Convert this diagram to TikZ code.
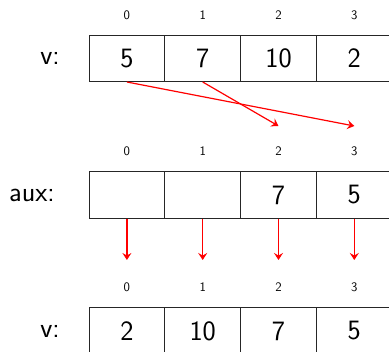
\documentclass[tikz,border=0pt]{standalone}
\usepackage{fontspec}
\usetikzlibrary{arrows.meta}
\begin{document}
\begin{tikzpicture}[x=1pt,y=-1pt,
  cell/.style={draw=black!85,line width=0.8pt,minimum width=75.8pt,minimum height=46.6pt,inner sep=0pt,font=\sffamily\fontsize{28}{32}\selectfont},
  idx/.style={inner sep=0pt,font=\sffamily\fontsize{13}{15}\selectfont},
  lbl/.style={inner sep=0pt,anchor=east,font=\sffamily\fontsize{28}{32}\selectfont},
  move/.style={draw=red,line width=1.2pt,-{Stealth[length=7pt,width=9pt,inset=2.5pt]}}]
\useasboundingbox (0,0) rectangle (389,352);
% row 1
\foreach \i/\v [count=\k from 0] in {0/5,1/7,2/10,3/2}{
  \node[cell] (v\i) at (126.9+75.8*\k,58.3) {\v};
  \node[idx] (vi\i) at (126.9+75.8*\k,15) {\i};
}
\node[lbl] (lv) at (60,58.3) {v:};
% row 2
\foreach \i/\v [count=\k from 0] in {0/{},1/{},2/7,3/5}{
  \node[cell] (a\i) at (126.9+75.8*\k,195) {\v};
  \node[idx] (ai\i) at (126.9+75.8*\k,151.5) {\i};
  \coordinate (d\i) at (126.9+75.8*\k,260);
}
\node[lbl] (la) at (55,195) {aux:};
% row 3
\foreach \i/\v [count=\k from 0] in {0/2,1/10,2/7,3/5}{
  \node[cell] (w\i) at (126.9+75.8*\k,331) {\v};
  \node[idx] (wi\i) at (126.9+75.8*\k,287.5) {\i};
}
\node[lbl] (lw) at (60,331) {v:};
% arrows
\coordinate (t2) at (278.5,126);
\coordinate (t3) at (354.3,126);
\draw[move] (v0.south) -- (t3);
\draw[move] (v1.south) -- (t2);
\foreach \i in {0,1,2,3}{
  \draw[move] (a\i.south) -- (d\i);
}
\end{tikzpicture}
\end{document}
